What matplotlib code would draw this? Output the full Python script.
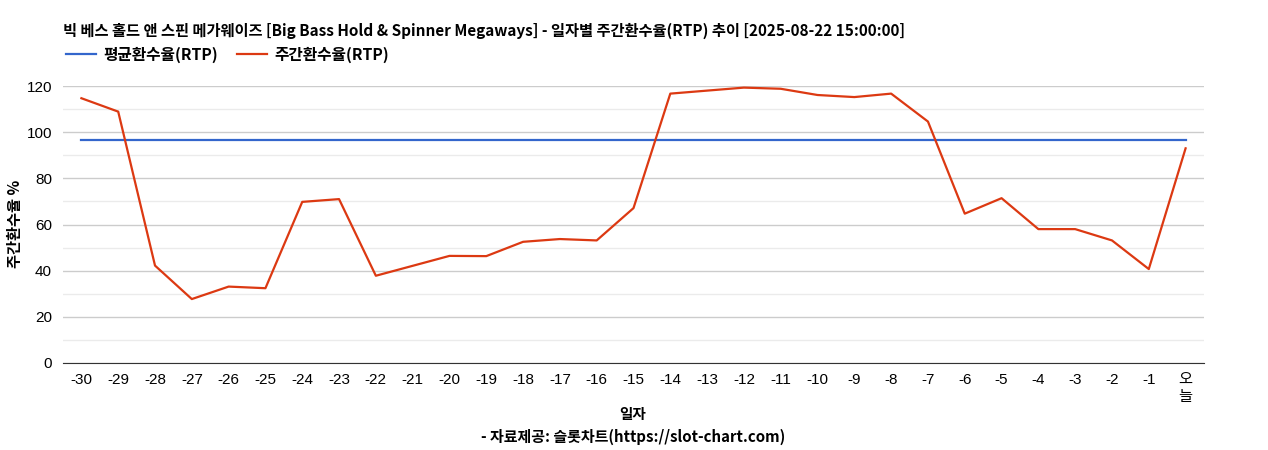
import matplotlib
matplotlib.use('Agg')
import matplotlib.pyplot as plt
import numpy as np

plt.rcParams['font.family'] = ['Liberation Sans', 'Noto Sans CJK KR', 'DejaVu Sans']

# 일자별 데이터
days = [str(d) for d in range(-30, 0)] + ['오\n늘']
weekly_rtp = [114.7, 108.9, 42.2, 27.7, 33.1, 32.4, 69.8, 71.0, 37.8, 42.1,
              46.4, 46.3, 52.5, 53.7, 53.1, 67.1, 116.7, 118.0, 119.3, 118.8,
              116.1, 115.2, 116.7, 104.6, 64.7, 71.4, 58.0, 58.0, 53.1, 40.7,
              93.0]
avg_rtp = 96.5

title = '빅 베스 홀드 앤 스핀 메가웨이즈 [Big Bass Hold & Spinner Megaways] - 일자별 주간환수율(RTP) 추이 [2025-08-22 15:00:00]'
CJK = ['Noto Sans CJK KR', 'DejaVu Sans']

fig = plt.figure(figsize=(12.68, 4.5), dpi=100)
ax = fig.add_axes([63 / 1268, 87 / 450, (1204 - 63) / 1268, (363 - 86) / 450])

x = np.arange(len(days))
ax.plot(x, [avg_rtp] * len(days), color='#3366cc', linewidth=1.6, label='평균환수율(RTP)')
ax.plot(x, weekly_rtp, color='#dc3912', linewidth=1.6, label='주간환수율(RTP)')

ax.set_xlim(-0.5, len(days) - 0.5)
ax.set_ylim(0, 120)
ax.set_yticks(np.arange(0, 121, 20))
ax.set_yticks(np.arange(10, 120, 20), minor=True)
ax.grid(axis='y', which='major', color='#cccccc', linewidth=1)
ax.grid(axis='y', which='minor', color='#ebebeb', linewidth=1)
ax.set_axisbelow(True)

ax.set_xticks(x)
ax.set_xticklabels(days, fontsize=11, linespacing=1.3, va='top')
ax.tick_params(axis='y', labelsize=11, length=0, pad=8)
ax.tick_params(axis='x', length=0, pad=7)
ax.tick_params(axis='y', which='minor', length=0)

for s in ['top', 'right', 'left']:
    ax.spines[s].set_visible(False)
ax.spines['bottom'].set_color('#333333')

# 축 제목
fig.text(15 / 1268, 1 - 224 / 450, '주간환수율 %', fontsize=11, fontweight='bold', family=CJK,
         rotation=90, ha='center', va='center')

fig.text(63 / 1268, 1 - 31 / 450, title, fontsize=11, fontweight='bold', family=CJK,
         va='center', ha='left')
fig.text(633 / 1268, 1 - 414 / 450, '일자', fontsize=10.5, fontweight='bold', family=CJK,
         va='center', ha='center')
fig.text(633 / 1268, 1 - 437 / 450, '- 자료제공: 슬롯차트(https://slot-chart.com)', fontsize=10.8,
         fontweight='bold', family=CJK, va='center', ha='center')

leg = fig.legend(loc='center left', bbox_to_anchor=(55 / 1268, 1 - 55 / 450), ncol=2,
                 frameon=False, handlelength=1.9, handletextpad=0.45, columnspacing=1.25,
                 borderpad=0.2, prop={'family': CJK, 'weight': 'bold', 'size': 11.3})

fig.savefig('out.png', dpi=100, facecolor='white')
